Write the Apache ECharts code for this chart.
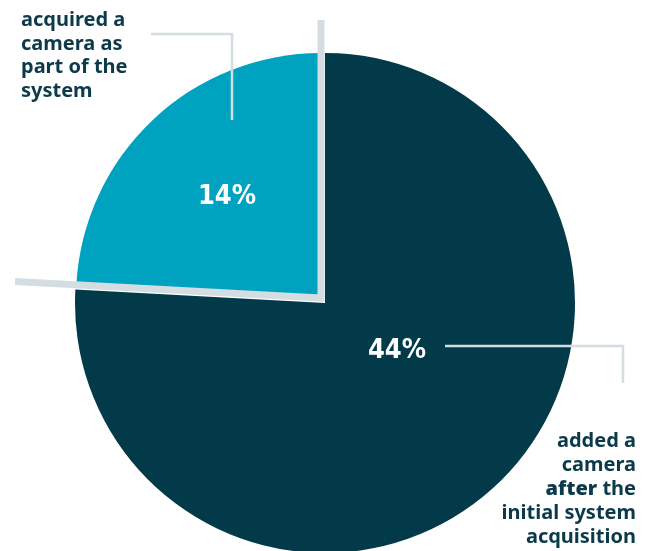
<!DOCTYPE html>
<html>
<head>
<meta charset="utf-8">
<script src="https://cdn.jsdelivr.net/npm/echarts@6/dist/echarts.min.js"></script>
<style>
  html, body { margin: 0; padding: 0; background: #ffffff; }
  #chart { width: 652px; height: 551px; }
</style>
</head>
<body>
<div id="chart"></div>
<script>
// Survey shares: how respondents obtained their camera
const categories = ['acquired a camera as part of the system', 'added a camera after the initial system acquisition'];
const values = [14, 44];
const sliceColors = ['#00a3bf', '#023a4a'];
const leftLabelLines = ['acquired a', 'camera as', 'part of the', 'system'];
const rightLabelLines = ['added a', 'camera', '{b|after} the', 'initial system', 'acquisition'];

const textColor = '#0c3a4a';
const ruleColor = '#d3dde2';
const labelFont = '"Noto Sans", "Open Sans", sans-serif';
const pctFont = '"DejaVu Sans Condensed", "DejaVu Sans", sans-serif';

const chart = echarts.init(document.getElementById('chart'), null, { renderer: 'canvas' });

const total = values.reduce((a, b) => a + b, 0);
// Light slice runs counter-clockwise from 12 o'clock
const startDeg = 90;
const endDeg = startDeg + 360 * values[0] / total;

const mainCenter = [325, 303];
const mainRadius = 250;
const hiCenter = [321, 298];
const hiRadius = 245;

// Separator rule along the highlighted slice's straight edges, extended outward
const rad = endDeg * Math.PI / 180;
const ux = Math.cos(rad), uy = -Math.sin(rad);
const leftLen = (hiCenter[0] - 15) / Math.abs(ux);
const ruleTop = [hiCenter[0], 20];
const ruleLeft = [hiCenter[0] + ux * leftLen, hiCenter[1] + uy * leftLen];

const pieBase = {
  type: 'pie',
  startAngle: startDeg,
  clockwise: false,
  silent: true,
  label: { show: false },
  labelLine: { show: false },
  emphasis: { disabled: true },
  animation: false
};

chart.setOption({
  animation: false,
  series: [
    Object.assign({}, pieBase, {
      name: 'after',
      center: mainCenter,
      radius: mainRadius,
      z: 2,
      data: [
        { name: categories[0], value: values[0], itemStyle: { color: 'rgba(0,0,0,0)' } },
        { name: categories[1], value: values[1], itemStyle: { color: sliceColors[1] } }
      ]
    }),
    Object.assign({}, pieBase, {
      name: 'part',
      center: hiCenter,
      radius: hiRadius,
      z: 3,
      data: [
        { name: categories[0], value: values[0], itemStyle: { color: sliceColors[0] } },
        { name: categories[1], value: values[1], itemStyle: { color: 'rgba(0,0,0,0)' } }
      ]
    })
  ],
  graphic: [
    {
      type: 'polyline', z: 10,
      shape: { points: [ruleTop, hiCenter, ruleLeft] },
      style: { stroke: ruleColor, lineWidth: 7, fill: null, lineJoin: 'miter', lineCap: 'butt' }
    },
    {
      type: 'polyline', z: 10,
      shape: { points: [[151, 34], [232, 34], [232, 120]] },
      style: { stroke: ruleColor, lineWidth: 2.5, fill: null }
    },
    {
      type: 'polyline', z: 10,
      shape: { points: [[445, 346], [623, 346], [623, 383]] },
      style: { stroke: ruleColor, lineWidth: 2.5, fill: null }
    },
    {
      type: 'text', z: 10, x: 21, y: 9,
      style: {
        text: leftLabelLines.join('\n'),
        fill: textColor, font: 'bold 20px ' + labelFont,
        lineHeight: 23.5, textAlign: 'left', textVerticalAlign: 'top'
      }
    },
    {
      type: 'text', z: 10, x: 636, y: 429,
      style: {
        text: rightLabelLines.join('\n'),
        fill: textColor, font: 'bold 20px ' + labelFont,
        lineHeight: 24, textAlign: 'right', textVerticalAlign: 'top',
        rich: { b: { fontWeight: 900, fontFamily: labelFont, fontSize: 20, fill: textColor } }
      }
    },
    {
      type: 'text', z: 10, x: 227, y: 197,
      style: {
        text: values[0] + '%', fill: '#ffffff', font: 'bold 27px ' + pctFont,
        textAlign: 'center', textVerticalAlign: 'middle'
      }
    },
    {
      type: 'text', z: 10, x: 397, y: 351,
      style: {
        text: values[1] + '%', fill: '#ffffff', font: 'bold 27px ' + pctFont,
        textAlign: 'center', textVerticalAlign: 'middle'
      }
    }
  ]
});
</script>
</body>
</html>
